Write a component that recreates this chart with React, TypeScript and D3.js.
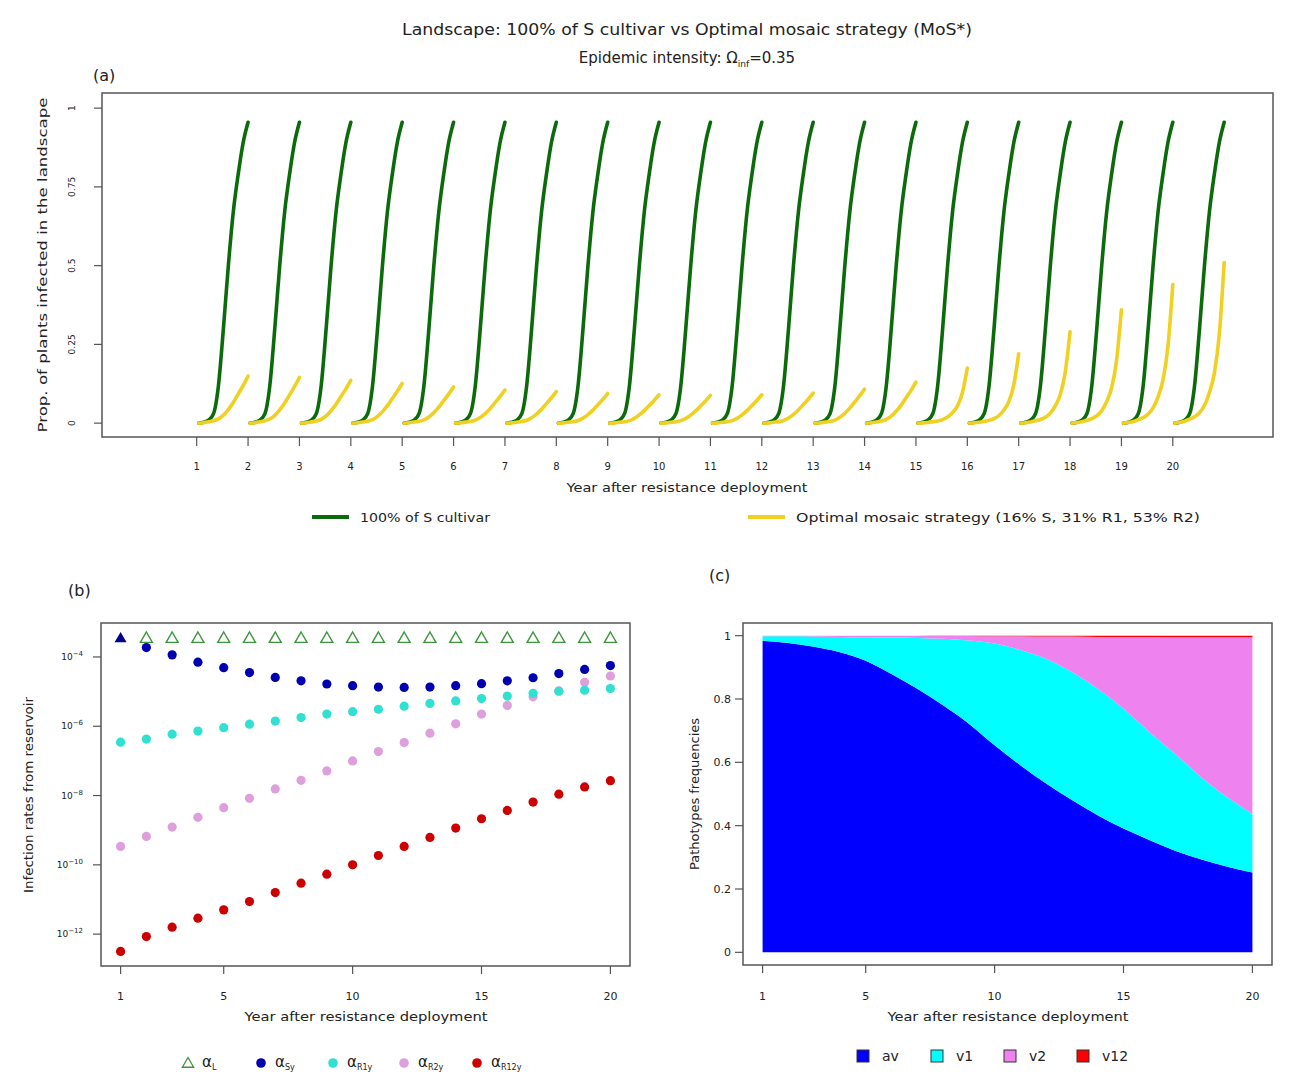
import React from 'react';
import * as d3 from 'd3';

// ---- panel (a): seasonal epidemics ----
const YEARS = [1, 2, 3, 4, 5, 6, 7, 8, 9, 10, 11, 12, 13, 14, 15, 16, 17, 18, 19, 20];
const SEASON_STEPS = [0, 0.1, 0.2, 0.3, 0.4, 0.5, 0.6, 0.7, 0.8, 0.9, 1];
// prop. infected along one season, 100% S cultivar (same every year)
const GREEN_SHAPE = [0, 0.003, 0.01, 0.03, 0.12, 0.3, 0.5, 0.67, 0.79, 0.89, 0.955];
// mosaic strategy: end-of-season value per year, and normalised season shapes
const YELLOW_PEAKS = [0.149, 0.145, 0.136, 0.126, 0.115, 0.105, 0.1, 0.094, 0.09, 0.088,
  0.09, 0.095, 0.108, 0.13, 0.175, 0.22, 0.29, 0.36, 0.44, 0.51];
const YELLOW_SHAPE_GRADUAL = [0, 0.01, 0.03, 0.05, 0.09, 0.17, 0.29, 0.44, 0.62, 0.8, 1];
const YELLOW_SHAPE_STEEP = [0, 0.005, 0.012, 0.025, 0.04, 0.065, 0.11, 0.19, 0.31, 0.55, 1];
const YELLOW_SHAPE_KIND = ['g', 'g', 'g', 'g', 'g', 'g', 'g', 'g', 'g', 'g', 'g', 'g', 'g', 'g',
  's', 's', 's', 's', 's', 's'];
const A_Y_TICKS = [0, 0.25, 0.5, 0.75, 1];
const A_Y_TICK_LABELS = ['0', '0.25', '0.5', '0.75', '1'];

// ---- panel (b): infection rates from reservoir (log10) ----
const ALPHA_L_LOG = [-3.45, -3.45, -3.45, -3.45, -3.45, -3.45, -3.45, -3.45, -3.45, -3.45,
  -3.45, -3.45, -3.45, -3.45, -3.45, -3.45, -3.45, -3.45, -3.45, -3.45];
const ALPHA_SY_LOG = [-3.45, -3.73, -3.94, -4.15, -4.31, -4.45, -4.59, -4.69, -4.78, -4.83,
  -4.87, -4.88, -4.87, -4.83, -4.77, -4.69, -4.6, -4.48, -4.36, -4.25];
const ALPHA_R1Y_LOG = [-6.46, -6.37, -6.23, -6.14, -6.04, -5.94, -5.85, -5.75, -5.65, -5.58,
  -5.51, -5.42, -5.34, -5.27, -5.2, -5.13, -5.05, -4.99, -4.96, -4.91];
const ALPHA_R2Y_LOG = [-9.47, -9.18, -8.91, -8.63, -8.35, -8.08, -7.81, -7.56, -7.29, -7.0,
  -6.73, -6.47, -6.2, -5.93, -5.65, -5.4, -5.15, -4.98, -4.73, -4.55];
const ALPHA_R12Y_LOG = [-12.5, -12.07, -11.8, -11.54, -11.3, -11.06, -10.8, -10.53, -10.27, -10.0,
  -9.73, -9.47, -9.21, -8.94, -8.67, -8.43, -8.19, -7.96, -7.75, -7.57];
const B_Y_TICK_EXP = [-4, -6, -8, -10, -12];
const BC_X_TICKS = [1, 5, 10, 15, 20];

// ---- panel (c): pathotype frequencies ----
const FREQ_AV = [0.984, 0.977, 0.965, 0.948, 0.921, 0.879, 0.832, 0.78, 0.722, 0.654,
  0.591, 0.533, 0.481, 0.433, 0.391, 0.355, 0.321, 0.294, 0.271, 0.252];
const FREQ_V1 = [0.014, 0.021, 0.032, 0.048, 0.074, 0.115, 0.161, 0.21, 0.263, 0.321,
  0.364, 0.394, 0.404, 0.399, 0.378, 0.341, 0.306, 0.26, 0.22, 0.185];
const FREQ_V2 = [0.002, 0.002, 0.003, 0.004, 0.005, 0.006, 0.007, 0.009, 0.014, 0.023,
  0.043, 0.07, 0.112, 0.164, 0.227, 0.3, 0.368, 0.441, 0.504, 0.558];
const FREQ_V12 = [0, 0, 0, 0, 0, 0, 0, 0.001, 0.001, 0.002,
  0.002, 0.003, 0.003, 0.004, 0.004, 0.004, 0.005, 0.005, 0.005, 0.005];
const C_Y_TICKS = [0, 0.2, 0.4, 0.6, 0.8, 1];
const C_Y_TICK_LABELS = ['0', '0.2', '0.4', '0.6', '0.8', '1'];
const PATHOTYPES = ['av', 'v1', 'v2', 'v12'];
const PATHO_COLORS = ['#0000ff', '#00ffff', '#ee82ee', '#ff0000'];

const FONT = 'DejaVu Sans, sans-serif';
const TXT = '#222';
const GREEN = '#0b6b0b';
const YELLOW = '#f0d020';
const BOX = '#555';

const App = () => {
  // panel (a)
  const xA = d3.scaleLinear().domain([-0.843, 21.95]).range([102, 1273]);
  const yA = d3.scaleLinear().domain([-0.044, 1.048]).range([437, 93]);
  const lineA = d3.line<[number, number]>()
    .x(d => xA(d[0]))
    .y(d => yA(d[1]))
    .curve(d3.curveMonotoneX);
  const seasonX = (year: number, f: number) => year + 0.04 + f * 0.96;

  const greenPaths = YEARS.map(yr =>
    lineA(SEASON_STEPS.map((f, k) => [seasonX(yr, f), GREEN_SHAPE[k]] as [number, number])));
  const yellowPaths = YEARS.map((yr, i) => {
    const shape = YELLOW_SHAPE_KIND[i] === 's' ? YELLOW_SHAPE_STEEP : YELLOW_SHAPE_GRADUAL;
    return lineA(SEASON_STEPS.map((f, k) => [seasonX(yr, f), YELLOW_PEAKS[i] * shape[k]] as [number, number]));
  });

  // panel (b)
  const xB = d3.scaleLinear().domain([0.24, 20.76]).range([101, 630]);
  const yB = d3.scaleLog().domain([Math.pow(10, -12.92), Math.pow(10, -3.02)]).range([966, 623]);
  const tri = d3.symbol(d3.symbolTriangle, 62)();
  const triSmall = d3.symbol(d3.symbolTriangle, 55)();
  const dotSeries = [
    { vals: ALPHA_R12Y_LOG, color: '#cd0000' },
    { vals: ALPHA_R2Y_LOG, color: '#dda0dd' },
    { vals: ALPHA_R1Y_LOG, color: '#30e0d0' },
    { vals: ALPHA_SY_LOG, color: '#0000b0' },
  ];

  // panel (c)
  const xC = d3.scaleLinear().domain([0.24, 20.76]).range([743, 1272]);
  const yC = d3.scaleLinear().domain([-0.04, 1.04]).range([965, 623]);
  const rows = YEARS.map((yr, i) => ({ year: yr, av: FREQ_AV[i], v1: FREQ_V1[i], v2: FREQ_V2[i], v12: FREQ_V12[i] }));
  const stacked = d3.stack<any>().keys(PATHOTYPES)(rows);
  const areaC = d3.area<any>()
    .x(d => xC(d.data.year))
    .y0(d => yC(d[0]))
    .y1(d => yC(d[1]))
    .curve(d3.curveMonotoneX);

  const legendB = [
    { x: 188, label: 'L', kind: 'tri' },
    { x: 261, label: 'Sy', kind: 'dot', color: '#0000b0' },
    { x: 333, label: 'R1y', kind: 'dot', color: '#30e0d0' },
    { x: 404, label: 'R2y', kind: 'dot', color: '#dda0dd' },
    { x: 477, label: 'R12y', kind: 'dot', color: '#cd0000' },
  ];
  const legendC = [857, 931, 1004, 1077];

  return (
    <svg width={1309} height={1076} style={{ position: 'absolute', left: 0, top: 0, fontFamily: FONT }}>
      <rect width={1309} height={1076} fill="#fff" />

      {/* titles */}
      <text x={687} y={35} textAnchor="middle" fontSize={15} fill={TXT} textLength={570} lengthAdjust="spacingAndGlyphs">
        Landscape: 100% of S cultivar vs Optimal mosaic strategy (MoS*)
      </text>
      <text x={687} y={63} textAnchor="middle" fontSize={15} fill={TXT}>
        Epidemic intensity: Ω<tspan fontSize={9} dy={4}>inf</tspan><tspan dy={-4}>=0.35</tspan>
      </text>

      {/* ---------- panel (a) ---------- */}
      <text x={93} y={81} fontSize={16} fill={TXT}>(a)</text>
      <g>
        {greenPaths.map((p, i) => (
          <path key={'g' + i} d={p || ''} fill="none" stroke={GREEN} strokeWidth={3.6} strokeLinecap="round" />
        ))}
        {yellowPaths.map((p, i) => (
          <path key={'y' + i} d={p || ''} fill="none" stroke={YELLOW} strokeWidth={3.6} strokeLinecap="round" />
        ))}
      </g>
      <rect x={102} y={93} width={1171} height={344} fill="none" stroke={BOX} strokeWidth={1.5} />
      {A_Y_TICKS.map((t, i) => (
        <g key={'ay' + i}>
          <line x1={94} x2={102} y1={yA(t)} y2={yA(t)} stroke={BOX} strokeWidth={1.2} />
          <text transform={`translate(75,${yA(t)}) rotate(-90)`} textAnchor="middle" fontSize={9} fill={TXT}>
            {A_Y_TICK_LABELS[i]}
          </text>
        </g>
      ))}
      {YEARS.map(yr => (
        <g key={'ax' + yr}>
          <line x1={xA(yr)} x2={xA(yr)} y1={437} y2={446} stroke={BOX} strokeWidth={1.2} />
          <text x={xA(yr)} y={470} textAnchor="middle" fontSize={10} fill={TXT}>{yr}</text>
        </g>
      ))}
      <text x={687} y={492} textAnchor="middle" fontSize={13} fill={TXT} textLength={241} lengthAdjust="spacingAndGlyphs">
        Year after resistance deployment
      </text>
      <text transform="translate(47,265) rotate(-90)" textAnchor="middle" fontSize={13} fill={TXT} textLength={335} lengthAdjust="spacingAndGlyphs">
        Prop. of plants infected in the landscape
      </text>
      {/* legend (a) */}
      <line x1={312} x2={349} y1={517} y2={517} stroke={GREEN} strokeWidth={4} />
      <text x={360} y={522} fontSize={13} fill={TXT} textLength={130} lengthAdjust="spacingAndGlyphs">100% of S cultivar</text>
      <line x1={748} x2={785} y1={517} y2={517} stroke={YELLOW} strokeWidth={4} />
      <text x={796} y={522} fontSize={13} fill={TXT} textLength={404} lengthAdjust="spacingAndGlyphs">
        Optimal mosaic strategy (16% S, 31% R1, 53% R2)
      </text>

      {/* ---------- panel (b) ---------- */}
      <text x={68} y={596} fontSize={16} fill={TXT}>(b)</text>
      {ALPHA_L_LOG.map((v, i) => i === 0 ? null : (
        <path key={'al' + i} d={tri || ''} transform={`translate(${xB(YEARS[i])},${yB(Math.pow(10, v)) + 1})`}
          fill="none" stroke="#3c963c" strokeWidth={1.4} />
      ))}
      {dotSeries.map((s, si) => (
        <g key={'ds' + si}>
          {s.vals.map((v, i) => (si === 3 && i === 0) ? (
            <path key={i} d={tri || ''} transform={`translate(${xB(YEARS[i])},${yB(Math.pow(10, v)) + 1})`} fill="#00008b" />
          ) : (
            <circle key={i} cx={xB(YEARS[i])} cy={yB(Math.pow(10, v))} r={4.6} fill={s.color} />
          ))}
        </g>
      ))}
      <rect x={101} y={623} width={529} height={343} fill="none" stroke={BOX} strokeWidth={1.5} />
      {B_Y_TICK_EXP.map(e => (
        <g key={'by' + e}>
          <line x1={93} x2={101} y1={yB(Math.pow(10, e))} y2={yB(Math.pow(10, e))} stroke={BOX} strokeWidth={1.2} />
          <text x={83} y={yB(Math.pow(10, e)) + 3} textAnchor="end" fontSize={9} fill={TXT}>
            10<tspan fontSize={7} dy={-4}>{'\u2212' + (-e)}</tspan>
          </text>
        </g>
      ))}
      {BC_X_TICKS.map(t => (
        <g key={'bx' + t}>
          <line x1={xB(t)} x2={xB(t)} y1={966} y2={974} stroke={BOX} strokeWidth={1.2} />
          <text x={xB(t)} y={1000} textAnchor="middle" fontSize={11} fill={TXT}>{t}</text>
        </g>
      ))}
      <text x={366} y={1021} textAnchor="middle" fontSize={13} fill={TXT} textLength={243} lengthAdjust="spacingAndGlyphs">
        Year after resistance deployment
      </text>
      <text transform="translate(33,795) rotate(-90)" textAnchor="middle" fontSize={13} fill={TXT} textLength={196} lengthAdjust="spacingAndGlyphs">
        Infection rates from reservoir
      </text>
      {/* legend (b) */}
      {legendB.map((l, i) => (
        <g key={'lb' + i}>
          {l.kind === 'tri'
            ? <path d={triSmall || ''} transform={`translate(${l.x},1064)`} fill="none" stroke="#3c963c" strokeWidth={1.3} />
            : <circle cx={l.x} cy={1063} r={4.8} fill={l.color} />}
          <text x={l.x + 14} y={1067} fontSize={15} fill={TXT}>
            α<tspan fontSize={8} dy={3}>{l.label}</tspan>
          </text>
        </g>
      ))}

      {/* ---------- panel (c) ---------- */}
      <text x={709} y={581} fontSize={16} fill={TXT}>(c)</text>
      {stacked.map((s, i) => (
        <path key={'ar' + i} d={areaC(s as any) || ''} fill={PATHO_COLORS[i]} />
      ))}
      <rect x={743} y={623} width={529} height={342} fill="none" stroke={BOX} strokeWidth={1.5} />
      {C_Y_TICKS.map((t, i) => (
        <g key={'cy' + i}>
          <line x1={735} x2={743} y1={yC(t)} y2={yC(t)} stroke={BOX} strokeWidth={1.2} />
          <text x={731} y={yC(t) + 4} textAnchor="end" fontSize={11} fill={TXT}>{C_Y_TICK_LABELS[i]}</text>
        </g>
      ))}
      {BC_X_TICKS.map(t => (
        <g key={'cx' + t}>
          <line x1={xC(t)} x2={xC(t)} y1={965} y2={973} stroke={BOX} strokeWidth={1.2} />
          <text x={xC(t)} y={1000} textAnchor="middle" fontSize={11} fill={TXT}>{t}</text>
        </g>
      ))}
      <text x={1008} y={1021} textAnchor="middle" fontSize={13} fill={TXT} textLength={241} lengthAdjust="spacingAndGlyphs">
        Year after resistance deployment
      </text>
      <text transform="translate(699,794) rotate(-90)" textAnchor="middle" fontSize={13} fill={TXT} textLength={152} lengthAdjust="spacingAndGlyphs">
        Pathotypes frequencies
      </text>
      {/* legend (c) */}
      {legendC.map((x, i) => (
        <g key={'lc' + i}>
          <rect x={x} y={1050} width={12} height={12} fill={PATHO_COLORS[i]} stroke="#333" strokeWidth={1} />
          <text x={x + 25} y={1061} fontSize={14} fill={TXT}>{PATHOTYPES[i]}</text>
        </g>
      ))}
    </svg>
  );
};

export default App;
